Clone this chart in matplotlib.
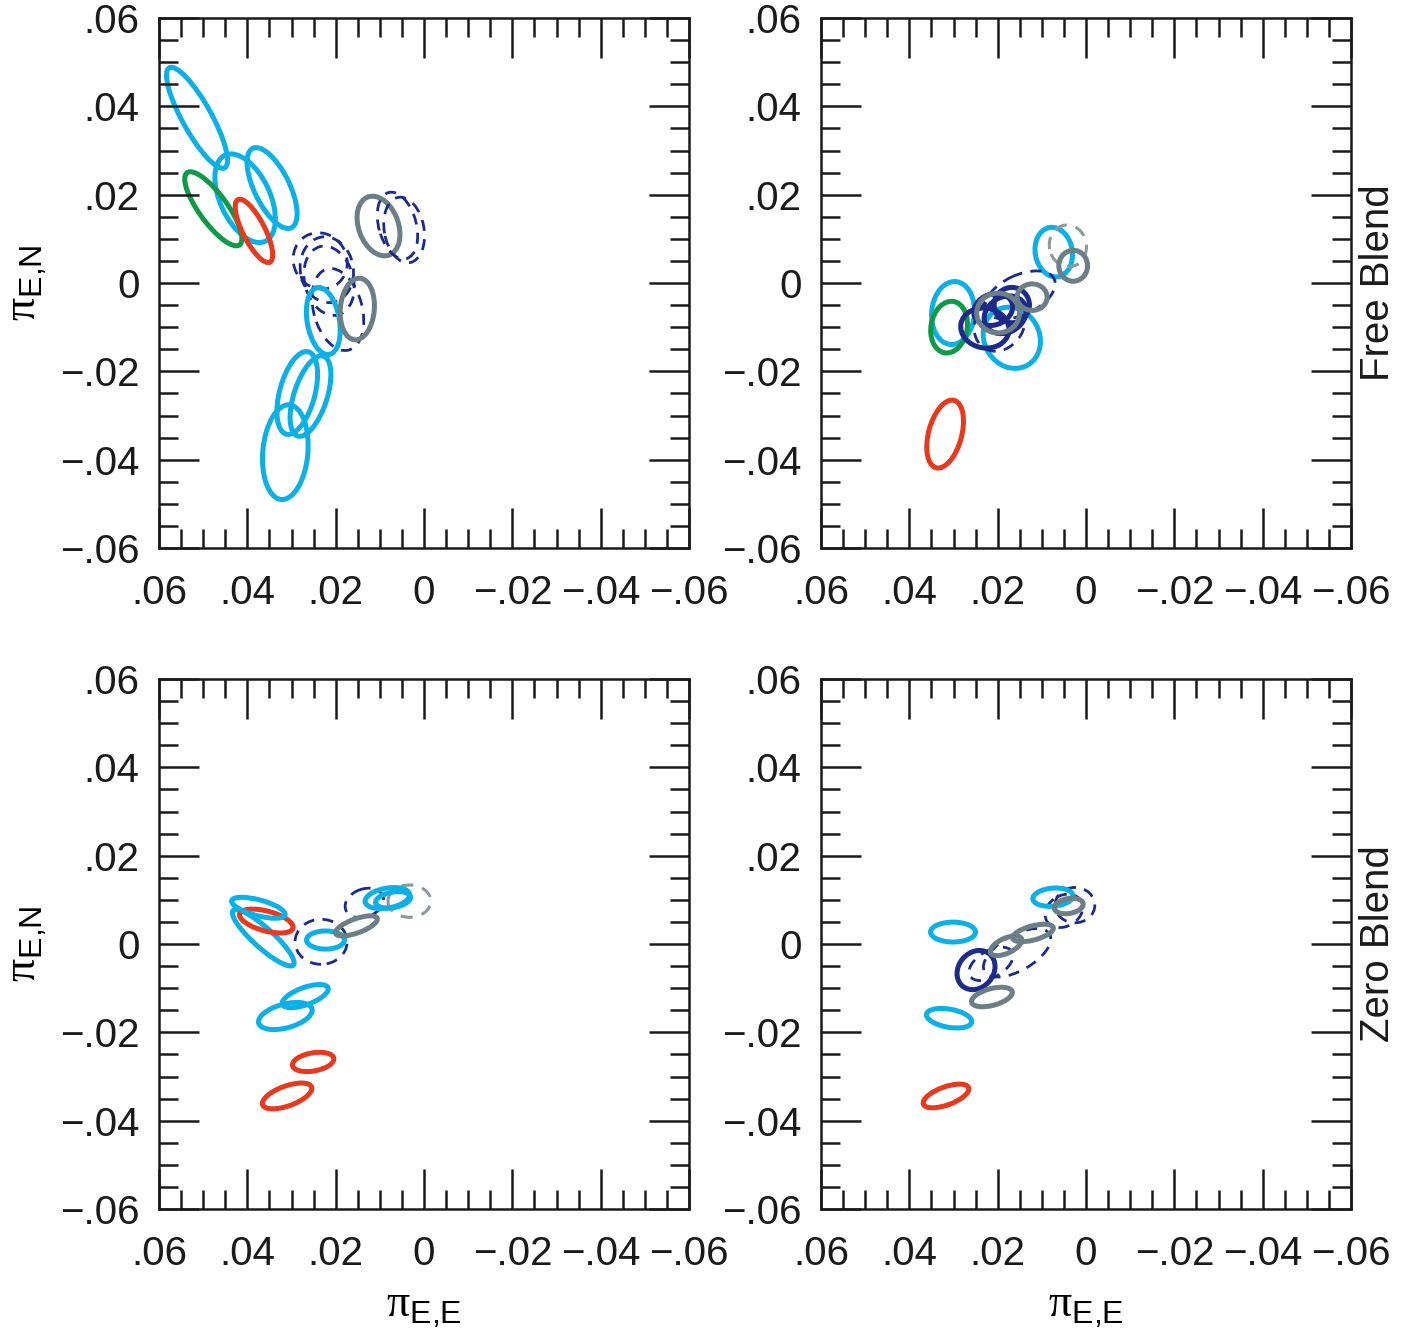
import matplotlib
matplotlib.use('Agg')
import matplotlib.pyplot as plt
from matplotlib.patches import Ellipse
from matplotlib.ticker import MultipleLocator

plt.rcParams['font.family'] = ['Liberation Sans', 'DejaVu Sans']
plt.rcParams['mathtext.fontset'] = 'custom'
plt.rcParams['mathtext.rm'] = 'Liberation Sans'

# tick values and labels (both axes)
tick_vals = [0.06, 0.04, 0.02, 0.0, -0.02, -0.04, -0.06]
tick_labels = ['.06', '.04', '.02', '0', '\u2212.02', '\u2212.04', '\u2212.06']

# error ellipses: (kind, piE_E, piE_N, full width, full height, angle deg)
free_a = [
    ('cyan', 0.0514, 0.0374, 0.0259, 0.0066, 61),
    ('cyan', 0.0405, 0.0192, 0.0215, 0.0113, 65),
    ('cyan', 0.0344, 0.0215, 0.0200, 0.0080, 64),
    ('green', 0.0477, 0.0168, 0.0202, 0.0064, 54),
    ('red', 0.0385, 0.0118, 0.0159, 0.0050, 63),
    ('gray', 0.0103, 0.0129, 0.0140, 0.0090, 70),
    ('navyd', 0.0060, 0.0130, 0.0155, 0.0085, 75),
    ('navyd', 0.0045, 0.0120, 0.0150, 0.0090, 80),
    ('navyd', 0.0235, 0.0050, 0.0130, 0.0120, 60),
    ('navyd', 0.0220, 0.0030, 0.0150, 0.0120, 80),
    ('navyd', 0.0215, 0.0005, 0.0160, 0.0110, 75),
    ('navyd', 0.0195, -0.0060, 0.0190, 0.0110, 75),
    ('cyan', 0.0228, -0.0086, 0.0154, 0.0073, 80),
    ('gray', 0.0151, -0.0059, 0.0140, 0.0077, 95),
    ('cyan', 0.0287, -0.0249, 0.0193, 0.0080, 105),
    ('cyan', 0.0257, -0.0256, 0.0190, 0.0075, 108),
    ('cyan', 0.0314, -0.0383, 0.0215, 0.0102, 95),
]

free_b = [
    ('red', 0.0319, -0.0342, 0.0158, 0.0075, 105),
    ('cyan', 0.0301, -0.0068, 0.0143, 0.0097, 95),
    ('green', 0.0310, -0.0100, 0.0118, 0.0082, 100),
    ('cyan', 0.0168, -0.0124, 0.0143, 0.0125, 60),
    ('cyan', 0.0073, 0.0070, 0.0113, 0.0084, 80),
    ('grayd', 0.0041, 0.0084, 0.0095, 0.0084, 80),
    ('gray', 0.0029, 0.0039, 0.0070, 0.0065, 90),
    ('navyd', 0.0149, -0.0027, 0.0170, 0.0090, 155),
    ('navyd', 0.0195, -0.0090, 0.0135, 0.0110, 120),
    ('navy', 0.0229, -0.0102, 0.0090, 0.0110, 100),
    ('navy', 0.0183, -0.0072, 0.0100, 0.0080, 150),
    ('navy', 0.0168, -0.0050, 0.0080, 0.0080, 0),
    ('navy', 0.0210, -0.0060, 0.0090, 0.0070, 160),
    ('gray', 0.0199, -0.0068, 0.0097, 0.0090, 0),
    ('gray', 0.0122, -0.0032, 0.0068, 0.0060, 0),
]

zero_a = [
    ('cyan', 0.0364, 0.0014, 0.0184, 0.0045, 42),
    ('red', 0.0357, 0.0052, 0.0125, 0.0045, 15),
    ('cyan', 0.0375, 0.0082, 0.0125, 0.0036, 15),
    ('navyd', 0.0233, 0.0005, 0.0118, 0.0102, 0),
    ('cyan', 0.0223, 0.0009, 0.0086, 0.0041, 0),
    ('navyd', 0.0135, 0.0093, 0.0090, 0.0063, 160),
    ('gray', 0.0153, 0.0041, 0.0100, 0.0032, 160),
    ('grayd', 0.0033, 0.0097, 0.0073, 0.0097, 90),
    ('cyan', 0.0083, 0.0104, 0.0102, 0.0045, 170),
    ('cyan', 0.0070, 0.0100, 0.0080, 0.0035, 170),
    ('cyan', 0.0269, -0.0118, 0.0110, 0.0039, 160),
    ('cyan', 0.0314, -0.0163, 0.0125, 0.0054, 165),
    ('red', 0.0251, -0.0267, 0.0095, 0.0041, 170),
    ('red', 0.0310, -0.0344, 0.0118, 0.0045, 160),
]

zero_b = [
    ('cyan', 0.0301, 0.0027, 0.0102, 0.0045, 0),
    ('cyan', 0.0310, -0.0168, 0.0104, 0.0041, 10),
    ('red', 0.0317, -0.0344, 0.0109, 0.0041, 160),
    ('navyd', 0.0156, -0.0020, 0.0170, 0.0080, 150),
    ('navyd', 0.0025, 0.0088, 0.0080, 0.0090, 90),
    ('navyd', 0.0050, 0.0075, 0.0090, 0.0070, 150),
    ('navyd', 0.0215, -0.0045, 0.0110, 0.0060, 150),
    ('navy', 0.0249, -0.0059, 0.0095, 0.0079, 130),
    ('gray', 0.0213, -0.0120, 0.0095, 0.0038, 165),
    ('gray', 0.0181, -0.0004, 0.0077, 0.0034, 155),
    ('gray', 0.0120, 0.0025, 0.0095, 0.0032, 165),
    ('cyan', 0.0075, 0.0106, 0.0091, 0.0041, 175),
    ('gray', 0.0039, 0.0086, 0.0066, 0.0034, 170),
]

styles = {
    'cyan': dict(color='#0bb0e6', ls='-', lw=3.6),
    'green': dict(color='#0f9a48', ls='-', lw=3.6),
    'red': dict(color='#e8391f', ls='-', lw=3.6),
    'gray': dict(color='#6c7f86', ls='-', lw=3.6),
    'grayd': dict(color='#8c989c', ls=(0, (4, 3)), lw=2.2),
    'navy': dict(color='#1c2a8a', ls='-', lw=3.6),
    'navyd': dict(color='#1c2a8a', ls=(0, (4, 3)), lw=2.0),
}

fig = plt.figure(figsize=(14.2, 13.38), dpi=100)
W, H = 1420, 1338
boxes = [(159, 18), (821, 18), (159, 679), (821, 679)]
panels = [free_a, free_b, zero_a, zero_b]

for i, (box, ells) in enumerate(zip(boxes, panels)):
    x0, y0 = box
    ax = fig.add_axes([x0 / W, 1 - (y0 + 530) / H, 530 / W, 530 / H])
    for kind, cx, cy, w, h, ang in ells:
        st = styles[kind]
        ax.add_patch(Ellipse((cx, cy), w, h, angle=ang, fill=False,
                             edgecolor=st['color'], linestyle=st['ls'],
                             linewidth=st['lw']))
    ax.set_xlim(0.06, -0.06)
    ax.set_ylim(-0.06, 0.06)
    ax.set_xticks(tick_vals)
    ax.set_xticklabels(tick_labels)
    ax.set_yticks(tick_vals)
    ax.set_yticklabels(tick_labels)
    ax.xaxis.set_minor_locator(MultipleLocator(0.005))
    ax.yaxis.set_minor_locator(MultipleLocator(0.005))
    ax.tick_params(which='both', direction='in', top=True, right=True,
                   width=1.8, colors='#1a1a1a', labelsize=29)
    ax.tick_params(which='major', length=29)
    ax.tick_params(which='minor', length=14)
    ax.tick_params(axis='x', which='major', pad=19)
    ax.tick_params(axis='y', which='major', pad=14)
    for sp in ax.spines.values():
        sp.set_linewidth(1.8)
        sp.set_color('#1a1a1a')
    if i % 2 == 0:
        ax.set_ylabel('\u03c0$_{\\mathrm{E{,}N}}$', fontsize=33,
                      family='Liberation Serif', labelpad=8)
    if i >= 2:
        ax.set_xlabel('\u03c0$_{\\mathrm{E{,}E}}$', fontsize=33,
                      family='Liberation Serif', labelpad=10)

fig.text(1378 / W, 1 - 283 / H, 'Free Blend', rotation=90, fontsize=29,
         ha='center', va='center', color='#1a1a1a')
fig.text(1378 / W, 1 - 944 / H, 'Zero Blend', rotation=90, fontsize=29,
         ha='center', va='center', color='#1a1a1a')

fig.savefig('out.png', dpi=100, facecolor='white')
